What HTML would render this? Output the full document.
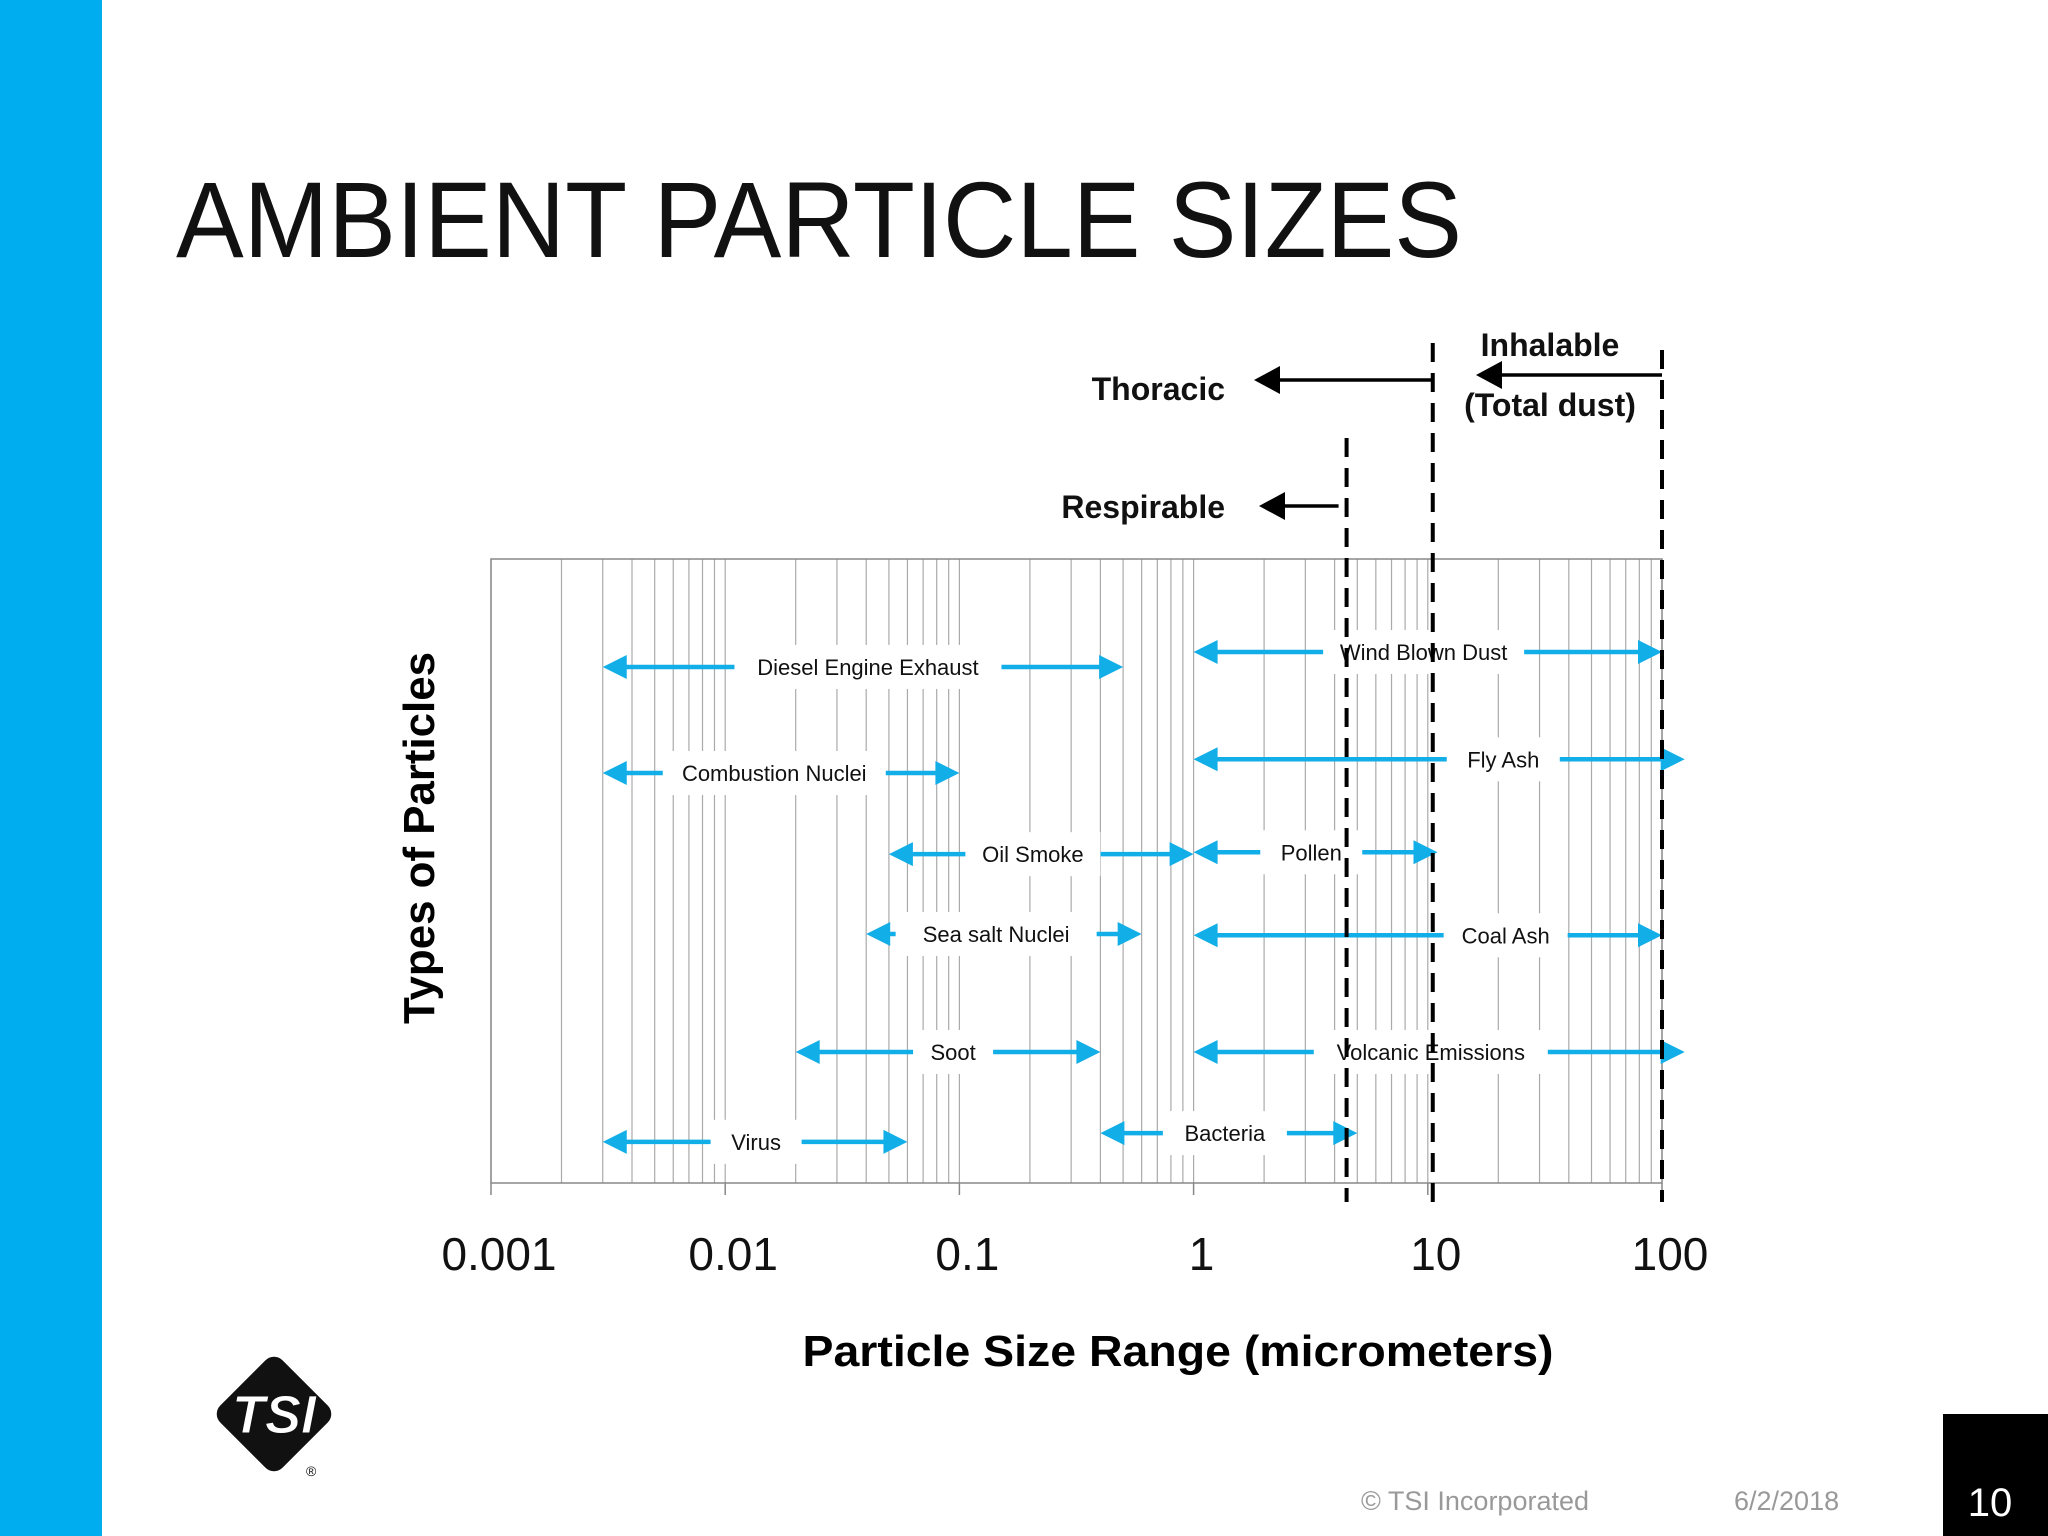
<!DOCTYPE html>
<html><head><meta charset="utf-8">
<style>
html,body{margin:0;padding:0;background:#fff;}
svg{display:block;font-family:"Liberation Sans",sans-serif;}
</style></head>
<body>
<svg id="chart" width="2048" height="1536" viewBox="0 0 2048 1536" xmlns="http://www.w3.org/2000/svg">
<rect x="0" y="0" width="102" height="1536" fill="#00aeef"/>
<text x="176" y="257" font-size="108" fill="#111" textLength="1286" lengthAdjust="spacingAndGlyphs">AMBIENT PARTICLE SIZES</text>
<g id="plot"></g>
<g id="marks"></g>
<g id="zones"></g>
<text x="1178" y="1366" font-size="44" font-weight="bold" text-anchor="middle" textLength="751" lengthAdjust="spacingAndGlyphs">Particle Size Range (micrometers)</text>
<text transform="translate(434,838) rotate(-90)" font-size="44" font-weight="bold" text-anchor="middle" textLength="372" lengthAdjust="spacingAndGlyphs">Types of Particles</text>
<g>
<rect x="230" y="1370" width="88" height="88" rx="12" fill="#111" transform="rotate(45 274 1414)"/>
<text x="274" y="1433" font-size="54" font-weight="bold" font-style="italic" fill="#fff" text-anchor="middle" stroke="#111" stroke-width="1">TSI</text>
<text x="306" y="1476" font-size="14" fill="#111">®</text>
</g>
<text x="1361" y="1510" font-size="27" fill="#999">© TSI Incorporated</text>
<text x="1734" y="1510" font-size="27" fill="#999">6/2/2018</text>
<rect x="1943" y="1414" width="105" height="122" fill="#000"/>
<text x="1990" y="1516" font-size="40" fill="#fff" text-anchor="middle">10</text>
</svg>
<script>
const tickValues = [0.001, 0.01, 0.1, 1, 10, 100];
const tickLabels = ["0.001", "0.01", "0.1", "1", "10", "100"];
const particleNames = ["Diesel Engine Exhaust","Wind Blown Dust","Combustion Nuclei","Fly Ash","Oil Smoke","Pollen","Sea salt Nuclei","Coal Ash","Soot","Volcanic Emissions","Virus","Bacteria"];
const rangeMin = [0.003, 1, 0.003, 1, 0.05, 1, 0.04, 1, 0.02, 1, 0.003, 0.4];
const rangeMax = [0.5, 100, 0.1, 125, 1, 11, 0.6, 100, 0.4, 125, 0.06, 5];
const rowLevel = [0.827, 0.851, 0.657, 0.679, 0.527, 0.53, 0.399, 0.397, 0.21, 0.21, 0.066, 0.08];
const labelAt = [0.0407, 9.6, 0.0162, 21, 0.206, 3.18, 0.1435, 21.5, 0.094, 10.3, 0.01355, 1.36];
const zoneNames = ["Respirable", "Thoracic", "Inhalable"];
const zoneCut = [4.5, 10.5, 100];

const NS = "http://www.w3.org/2000/svg";
const L = 491, R = 1662, T = 559, B = 1183;
const xs = v => L + (Math.log10(v) + 3) / 5 * (R - L);
const ys = f => B - f * (B - T);
function mk(tag, attrs, parent){const e=document.createElementNS(NS,tag);for(const k in attrs)e.setAttribute(k,attrs[k]);parent.appendChild(e);return e;}
const plot = document.getElementById('plot');
const marks = document.getElementById('marks');
const zones = document.getElementById('zones');

for (let d = -3; d < 2; d++) {
  for (let k = 1; k <= 9; k++) {
    const v = k * Math.pow(10, d);
    const g = mk('line', {x1: xs(v), x2: xs(v), y1: T, y2: B, stroke: '#aaa', 'stroke-width': 1.2}, plot);
    
    
  }
}
const fr = mk('rect', {x: L, y: T, width: R - L, height: B - T, fill: 'none', stroke: '#888', 'stroke-width': 1.5}, plot);


tickValues.forEach((v, i) => {
  const t = mk('line', {x1: xs(v), x2: xs(v), y1: B, y2: B + 12, stroke: '#888', 'stroke-width': 1.5}, plot);
  
  
  const lb = mk('text', {x: xs(v) + 8, y: 1270, 'font-size': 46, 'text-anchor': 'middle', fill: '#111'}, plot);
  
  
  lb.textContent = tickLabels[i];
});

const BLUE = '#12aee8';
particleNames.forEach((name, i) => {
  const x1 = xs(rangeMin[i]), x2 = xs(rangeMax[i]), y = ys(rowLevel[i]);
  const g = mk('g', {}, marks);
  
  
  mk('line', {x1: x1 + 20, x2: x2 - 20, y1: y, y2: y, stroke: BLUE, 'stroke-width': 4.5}, g);
  mk('polygon', {points: `${x1},${y} ${x1+24},${y-12} ${x1+24},${y+12}`, fill: BLUE}, g);
  mk('polygon', {points: `${x2},${y} ${x2-24},${y-12} ${x2-24},${y+12}`, fill: BLUE}, g);
  const cx = xs(labelAt[i]);
  const w = name.length * 11 + 36;
  mk('rect', {x: cx - w / 2, y: y - 22, width: w, height: 44, fill: '#fff'}, g);
  const tx = mk('text', {x: cx, y: y + 8, 'font-size': 22, 'text-anchor': 'middle', fill: '#111'}, g);
  
  
  tx.textContent = name;
});

const zoneTop = [438, 343, 350];
zoneCut.forEach((v, i) => {
  const x = xs(v);
  const dl = mk('line', {x1: x, x2: x, y1: zoneTop[i], y2: 1202, stroke: '#000', 'stroke-width': 4, 'stroke-dasharray': '19 11'}, zones);
  
  
});
function zoneArrow(x1, x2, y){
  mk('line', {x1: x1 + 20, x2: x2, y1: y, y2: y, stroke: '#000', 'stroke-width': 3.5}, zones);
  mk('polygon', {points: `${x1},${y} ${x1+26},${y-14} ${x1+26},${y+14}`, fill: '#000'}, zones);
}
zoneArrow(1259, xs(zoneCut[0]) - 8, 506);
zoneArrow(1254, xs(zoneCut[1]), 380);
zoneArrow(1476, xs(zoneCut[2]), 375);
const labs = [[zoneNames[0], 1225, 518, 'end'], [zoneNames[1], 1225, 400, 'end'], [zoneNames[2], 1550, 356, 'middle'], ['(Total dust)', 1550, 416, 'middle']];
labs.forEach(l => {
  const t = mk('text', {x: l[1], y: l[2], 'font-size': 32, 'font-weight': 'bold', 'text-anchor': l[3], fill: '#111'}, zones);
  
  
  t.textContent = l[0];
});
</script>
</body></html>
